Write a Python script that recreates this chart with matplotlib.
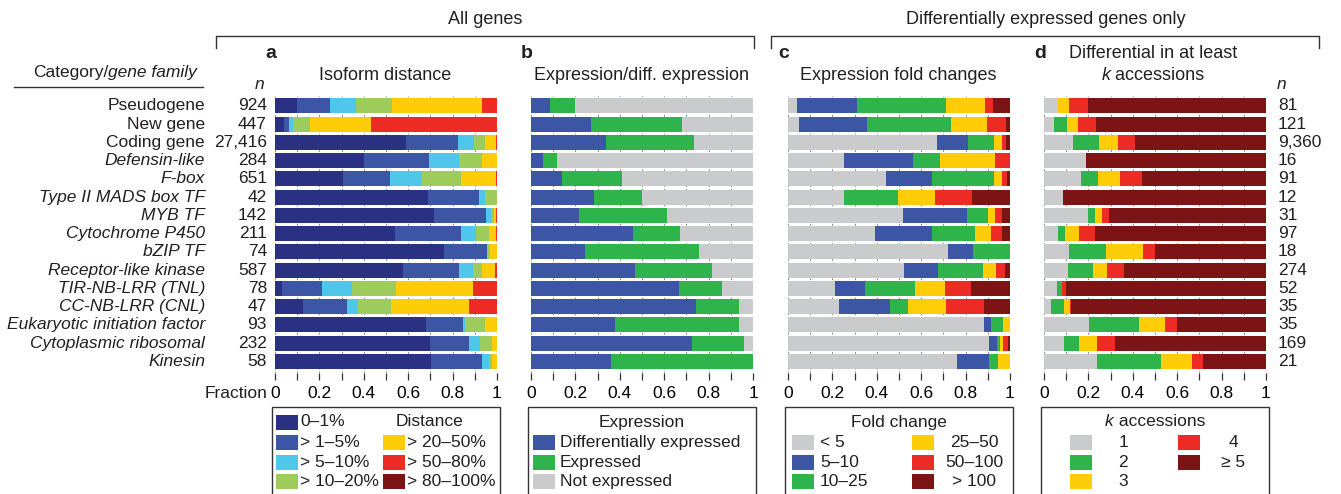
import numpy as np
import matplotlib
matplotlib.use("Agg")
from matplotlib import pyplot as plt
from matplotlib.patches import Rectangle
from matplotlib.lines import Line2D
from matplotlib.transforms import blended_transform_factory

plt.rcParams['font.family'] = ['Liberation Sans', 'DejaVu Sans']
plt.rcParams['font.size'] = 12.5
plt.rcParams['text.color'] = '#231f20'

# ---- data ----
categories = ['Pseudogene', 'New gene', 'Coding gene', 'Defensin-like', 'F-box',
              'Type II MADS box TF', 'MYB TF', 'Cytochrome P450', 'bZIP TF',
              'Receptor-like kinase', 'TIR-NB-LRR (TNL)', 'CC-NB-LRR (CNL)',
              'Eukaryotic initiation factor', 'Cytoplasmic ribosomal', 'Kinesin']
italic_from = 3
n_all = ['924', '447', '27,416', '284', '651', '42', '142', '211', '74', '587',
         '78', '47', '93', '232', '58']
n_diff = ['81', '121', '9,360', '16', '91', '12', '31', '97', '18', '274',
          '52', '35', '35', '169', '21']

# a: isoform distance fractions
dist_labels = ['0\u20131%', '> 1\u20135%', '> 5\u201310%', '> 10\u201320%',
               '> 20\u201350%', '> 50\u201380%', '> 80\u2013100%']
isoform_dist = [
    [0.098, 0.151, 0.116, 0.164, 0.405, 0.066, 0.0],
    [0.042, 0.021, 0.020, 0.075, 0.275, 0.567, 0.0],
    [0.591, 0.233, 0.072, 0.048, 0.051, 0.005, 0.0],
    [0.403, 0.292, 0.135, 0.104, 0.066, 0.0, 0.0],
    [0.306, 0.211, 0.144, 0.176, 0.160, 0.003, 0.0],
    [0.688, 0.232, 0.024, 0.056, 0.0, 0.0, 0.0],
    [0.716, 0.234, 0.021, 0.014, 0.009, 0.006, 0.0],
    [0.540, 0.300, 0.066, 0.059, 0.029, 0.006, 0.0],
    [0.762, 0.193, 0.0, 0.015, 0.030, 0.0, 0.0],
    [0.578, 0.249, 0.063, 0.041, 0.060, 0.009, 0.0],
    [0.030, 0.181, 0.136, 0.197, 0.350, 0.106, 0.0],
    [0.124, 0.200, 0.049, 0.150, 0.350, 0.127, 0.0],
    [0.682, 0.164, 0.012, 0.089, 0.053, 0.0, 0.0],
    [0.698, 0.174, 0.051, 0.056, 0.021, 0.0, 0.0],
    [0.704, 0.227, 0.031, 0.017, 0.021, 0.0, 0.0],
]

# b: expression
expr_labels = ['Differentially expressed', 'Expressed', 'Not expressed']
diff_expressed = [0.086, 0.270, 0.340, 0.056, 0.139, 0.285, 0.217, 0.459, 0.242,
                  0.467, 0.667, 0.744, 0.377, 0.727, 0.361]
expressed = [0.111, 0.412, 0.395, 0.060, 0.269, 0.213, 0.397, 0.214, 0.516,
             0.349, 0.193, 0.193, 0.558, 0.231, 0.639]
not_expressed = [0.803, 0.318, 0.265, 0.884, 0.592, 0.502, 0.386, 0.327, 0.242,
                 0.184, 0.140, 0.063, 0.065, 0.042, 0.0]

# c: fold changes
fold_labels = ['< 5', '5\u201310', '10\u201325', '25\u201350', '50\u2013100', '> 100']
fold_change = [
    [0.039, 0.272, 0.402, 0.173, 0.037, 0.077],
    [0.051, 0.306, 0.376, 0.165, 0.082, 0.020],
    [0.670, 0.142, 0.114, 0.036, 0.020, 0.018],
    [0.251, 0.312, 0.123, 0.248, 0.066, 0.0],
    [0.440, 0.209, 0.279, 0.034, 0.023, 0.015],
    [0.251, 0.0, 0.246, 0.167, 0.166, 0.170],
    [0.517, 0.289, 0.093, 0.032, 0.033, 0.036],
    [0.393, 0.256, 0.193, 0.072, 0.051, 0.035],
    [0.722, 0.111, 0.167, 0.0, 0.0, 0.0],
    [0.523, 0.153, 0.204, 0.058, 0.041, 0.021],
    [0.212, 0.135, 0.227, 0.135, 0.115, 0.176],
    [0.228, 0.230, 0.083, 0.171, 0.171, 0.117],
    [0.884, 0.030, 0.054, 0.032, 0.0, 0.0],
    [0.904, 0.037, 0.012, 0.014, 0.024, 0.009],
    [0.761, 0.143, 0.043, 0.053, 0.0, 0.0],
]

# d: differential in at least k accessions
k_labels = ['1', '2', '3', '4', '\u2265 5']
k_accessions = [
    [0.063, 0.0, 0.051, 0.085, 0.801],
    [0.043, 0.059, 0.049, 0.083, 0.766],
    [0.132, 0.114, 0.087, 0.076, 0.591],
    [0.189, 0.0, 0.0, 0.0, 0.811],
    [0.166, 0.077, 0.100, 0.099, 0.558],
    [0.085, 0.0, 0.0, 0.0, 0.915],
    [0.196, 0.032, 0.033, 0.031, 0.708],
    [0.064, 0.032, 0.061, 0.072, 0.771],
    [0.114, 0.166, 0.165, 0.056, 0.499],
    [0.108, 0.111, 0.064, 0.077, 0.640],
    [0.058, 0.021, 0.0, 0.020, 0.901],
    [0.031, 0.059, 0.027, 0.003, 0.880],
    [0.202, 0.228, 0.113, 0.058, 0.399],
    [0.091, 0.065, 0.082, 0.083, 0.679],
    [0.240, 0.285, 0.142, 0.048, 0.285],
]

# colours
NAVY = '#2b3182'
BLUE = '#3c55a5'
CYAN = '#4fc7ea'
LGREEN = '#9dcb5c'
YELLOW = '#fecd08'
RED = '#ed2b25'
DRED = '#7c1416'
GREEN = '#2fb34b'
GREY = '#cacbcd'
INK = '#333333'

dist_colors = [NAVY, BLUE, CYAN, LGREEN, YELLOW, RED, DRED]
expr_colors = [BLUE, GREEN, GREY]
fold_colors = [GREY, BLUE, GREEN, YELLOW, RED, DRED]
k_colors = [GREY, GREEN, YELLOW, RED, DRED]

W, H = 1341, 494
fig = plt.figure(figsize=(W / 100, H / 100), dpi=100)


def fx(x):
    return x / W


def fy(y):
    return 1 - y / H


def ftext(x, y, s, **kw):
    return fig.text(fx(x), fy(y), s, **kw)


def fline(xs, ys):
    fig.add_artist(Line2D([fx(x) for x in xs], [fy(y) for y in ys],
                          color=INK, lw=1.0, transform=fig.transFigure))


ax_left = [275, 531, 788, 1044]
ax_w = 222
ax_top, ax_bot = 96, 373
nrow = len(categories)
ypos = np.arange(nrow)


def stacked(ax, rows, colors):
    rows = np.array(rows)
    lefts = np.hstack([np.zeros((rows.shape[0], 1)), np.cumsum(rows, axis=1)[:, :-1]])
    for j, c in enumerate(colors):
        ax.barh(ypos, rows[:, j], left=lefts[:, j], height=0.82, color=c,
                linewidth=0, zorder=2)


axes = []
for i, left in enumerate(ax_left):
    ax = fig.add_axes([fx(left), fy(ax_bot), ax_w / W, (ax_bot - ax_top) / H])
    ax.set_xlim(0, 1)
    ax.set_ylim(14.63, -0.54)
    for s in ax.spines.values():
        s.set_visible(False)
    ax.set_yticks([])
    ax.set_xticks(np.round(np.arange(0, 1.01, 0.1), 1))
    ax.set_xticklabels(['0', '', '0.2', '', '0.4', '', '0.6', '', '0.8', '', '1'])
    ax.tick_params(axis='x', direction='out', length=5, width=0.9, color=INK,
                   pad=4, labelsize=12.5)
    for g in np.arange(0, 1.01, 0.1):
        ax.axvline(g, color='#8a8a8a', lw=0.7, ls=(0, (2, 2)), zorder=1)
    axes.append(ax)

stacked(axes[0], isoform_dist, dist_colors)
stacked(axes[1], np.array([diff_expressed, expressed, not_expressed]).T, expr_colors)
stacked(axes[2], fold_change, fold_colors)
stacked(axes[3], k_accessions, k_colors)

# row labels and n values
tr_a = blended_transform_factory(fig.transFigure, axes[0].transData)
for i, (cat, n) in enumerate(zip(categories, n_all)):
    axes[0].text(fx(205), i, cat, transform=tr_a, ha='right', va='center',
                 fontstyle='italic' if i >= italic_from else 'normal')
    axes[0].text(fx(267), i, n, transform=tr_a, ha='right', va='center')
tr_d = blended_transform_factory(fig.transFigure, axes[3].transData)
for i, n in enumerate(n_diff):
    axes[3].text(fx(1278), i, n, transform=tr_d, ha='left', va='center')

ftext(267, 393, 'Fraction', ha='right', va='center')

# headers
fig.canvas.draw()
renderer = fig.canvas.get_renderer()


def width_px(s, **kw):
    t = fig.text(0, 0, s, **kw)
    w = t.get_window_extent(renderer).width
    t.remove()
    return w


gw = width_px('gene family', fontstyle='italic')
ftext(197, 72, 'gene family', ha='right', va='center', fontstyle='italic')
ftext(197 - gw, 72, 'Category/', ha='right', va='center')
fline([14, 203], [87, 87])
ftext(260, 84, 'n', ha='center', va='center', fontstyle='italic')
ftext(1282, 84, 'n', ha='center', va='center', fontstyle='italic')

ftext(485, 19, 'All genes', ha='center', va='center', fontsize=13)
fline([216, 216, 754, 754], [48, 36, 36, 48])
ftext(1046, 19, 'Differentially expressed genes only', ha='center', va='center', fontsize=13)
fline([771, 771, 1319, 1319], [48, 36, 36, 48])

for letter, left in zip('abcd', ax_left):
    ftext(left - 10, 54, letter, ha='left', va='center', fontsize=14, fontweight='bold')

ftext(385, 75, 'Isoform distance', ha='center', va='center', fontsize=13)
ftext(642, 75, 'Expression/diff. expression', ha='center', va='center', fontsize=13)
ftext(898, 75, 'Expression fold changes', ha='center', va='center', fontsize=13)
ftext(1153, 54, 'Differential in at least', ha='center', va='center', fontsize=13)
kw13 = width_px('k', fontsize=13, fontstyle='italic')
aw13 = width_px(' accessions', fontsize=13)
x0 = 1153 - (kw13 + aw13) / 2
ftext(x0, 75, 'k', ha='left', va='center', fontsize=13, fontstyle='italic')
ftext(x0 + kw13, 75, ' accessions', ha='left', va='center', fontsize=13)

# legends
rows_y = [422, 442, 462, 481]
box_w = ax_w + 6


def box(left):
    fig.add_artist(Rectangle((fx(left), fy(500)), box_w / W, (500 - 407) / H,
                             fill=False, edgecolor=INK, lw=1.0,
                             transform=fig.transFigure))


def patch(x, y, c, w=22, h=15):
    fig.add_artist(Rectangle((fx(x), fy(y + h / 2)), w / W, h / H, facecolor=c,
                             edgecolor='none', transform=fig.transFigure))


# a
L = ax_left[0] - 3
box(L)
for j in range(4):
    patch(L + 4, rows_y[j], dist_colors[j])
    ftext(L + 28, rows_y[j], dist_labels[j], ha='left', va='center')
for j in range(4, 7):
    patch(L + 111, rows_y[j - 3], dist_colors[j])
    ftext(L + 135, rows_y[j - 3], dist_labels[j], ha='left', va='center')
ftext(L + 158, rows_y[0], 'Distance', ha='center', va='center')

# b
L = ax_left[1] - 3
box(L)
ftext(L + box_w / 2, rows_y[0], 'Expression', ha='center', va='center')
for j in range(3):
    patch(L + 5, rows_y[j + 1], expr_colors[j])
    ftext(L + 32, rows_y[j + 1], expr_labels[j], ha='left', va='center')

# c
L = ax_left[2] - 3
box(L)
ftext(L + box_w / 2, rows_y[0], 'Fold change', ha='center', va='center')
for j in range(3):
    patch(L + 7, rows_y[j + 1], fold_colors[j])
    ftext(L + 35, rows_y[j + 1], fold_labels[j], ha='left', va='center')
for j in range(3, 6):
    patch(L + 127, rows_y[j - 2], fold_colors[j])
    ftext(L + 189, rows_y[j - 2], fold_labels[j], ha='center', va='center')

# d
L = ax_left[3] - 3
box(L)
kw = width_px('k', fontstyle='italic')
aw = width_px(' accessions')
x0 = L + box_w / 2 - (kw + aw) / 2
ftext(x0, rows_y[0], 'k', ha='left', va='center', fontstyle='italic')
ftext(x0 + kw, rows_y[0], ' accessions', ha='left', va='center')
for j in range(3):
    patch(L + 29, rows_y[j + 1], k_colors[j])
    ftext(L + 82, rows_y[j + 1], k_labels[j], ha='center', va='center')
for j in range(3, 5):
    patch(L + 137, rows_y[j - 2], k_colors[j])
    ftext(L + 192, rows_y[j - 2], k_labels[j], ha='center', va='center')

fig.savefig('out.png', dpi=100)
